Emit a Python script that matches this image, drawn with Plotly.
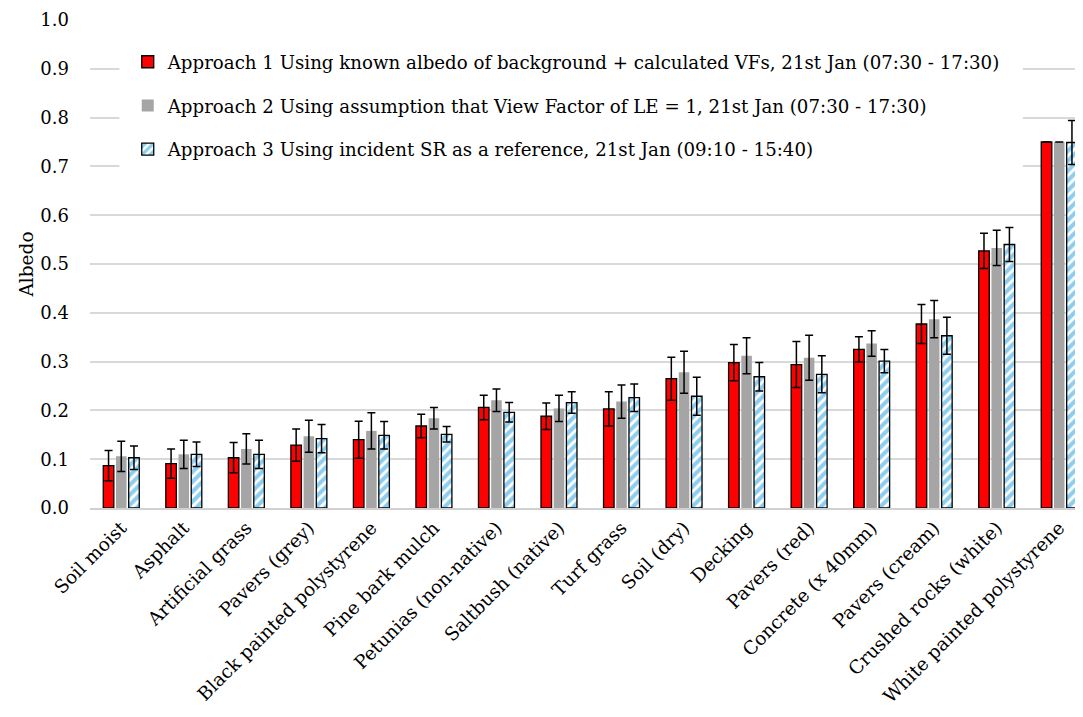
import plotly.graph_objects as go

categories = ["Soil moist", "Asphalt", "Artificial grass", "Pavers (grey)",
              "Black painted polystyrene", "Pine bark mulch", "Petunias (non-native)",
              "Saltbush (native)", "Turf grass", "Soil (dry)", "Decking", "Pavers (red)",
              "Concrete (x 40mm)", "Pavers (cream)", "Crushed rocks (white)",
              "White painted polystyrene"]

approach1 = [0.087, 0.091, 0.103, 0.129, 0.140, 0.168, 0.206, 0.188, 0.203, 0.265,
             0.298, 0.294, 0.325, 0.377, 0.527, 0.750]
approach1_err = [0.031, 0.030, 0.031, 0.033, 0.038, 0.024, 0.025, 0.027, 0.035, 0.044,
                 0.037, 0.047, 0.026, 0.040, 0.036, 0.0]

approach2 = [0.106, 0.110, 0.121, 0.147, 0.158, 0.184, 0.221, 0.204, 0.218, 0.278,
             0.312, 0.308, 0.337, 0.387, 0.533, 0.750]
approach2_err = [0.031, 0.029, 0.031, 0.033, 0.037, 0.022, 0.023, 0.027, 0.034, 0.043,
                 0.037, 0.046, 0.026, 0.038, 0.036, 0.0]

approach3 = [0.103, 0.110, 0.110, 0.142, 0.149, 0.151, 0.196, 0.216, 0.226, 0.229,
             0.269, 0.274, 0.301, 0.353, 0.540, 0.749]
approach3_err = [0.024, 0.025, 0.029, 0.029, 0.028, 0.016, 0.020, 0.022, 0.028, 0.039,
                 0.029, 0.038, 0.024, 0.038, 0.035, 0.045]

names = ["Approach 1 Using known albedo of background + calculated VFs, 21st Jan (07:30 - 17:30)",
         "Approach 2 Using assumption that View Factor of LE = 1, 21st Jan (07:30 - 17:30)",
         "Approach 3 Using incident SR as a reference, 21st Jan (09:10 - 15:40)"]

y_ticks = [round(i * 0.1, 1) for i in range(11)]

FONT = "DejaVu Serif"
err_style = dict(type="data", color="black", thickness=1.5, width=4)

fig = go.Figure()
fig.add_trace(go.Bar(
    x=categories, y=approach1, name=names[0], legendgroup="a1",
    marker=dict(color="#ff0000", line=dict(color="black", width=1.3)),
    error_y=dict(array=approach1_err, **err_style)))
fig.add_trace(go.Bar(
    x=categories, y=approach2, name=names[1], legendgroup="a2",
    marker=dict(color="#a5a5a5", line=dict(color="#a5a5a5", width=0)),
    error_y=dict(array=approach2_err, **err_style)))
fig.add_trace(go.Bar(
    x=categories, y=approach3, name=names[2], legendgroup="a3",
    marker=dict(color="white", line=dict(color="black", width=1.3),
                pattern=dict(shape="/", fgcolor="#1b9ce0", bgcolor="white",
                             size=7, solidity=0.58, fillmode="overlay")),
    error_y=dict(array=approach3_err, **err_style)))

# white backdrop behind the legend area (hides gridlines there, as in the original)
fig.add_shape(type="rect", xref="x", yref="y", x0=-0.03, x1=14.42, y0=0.64, y1=0.97,
              fillcolor="white", line=dict(width=0), layer="between")

fig.update_layout(
    width=1075, height=709,
    margin=dict(l=82, r=0, t=12, b=209, autoexpand=False),
    paper_bgcolor="white", plot_bgcolor="white",
    barmode="group", bargap=0.39, bargroupgap=0.17,
    font=dict(family=FONT, size=18, color="black"),
    showlegend=True,
    legend=dict(x=0.038, y=0.952, xanchor="left", yanchor="top",
                bgcolor="white", borderwidth=0, tracegroupgap=17,
                font=dict(family=FONT, size=18.2, color="black")),
)
fig.update_xaxes(range=[-0.5, 15.38], tickangle=-45, showgrid=False,
                 showline=True, linecolor="#d0d0d0", linewidth=1.5,
                 ticks="", automargin=False, tickfont=dict(family=FONT, size=18.5))
fig.update_yaxes(range=[0, 1.0], tickvals=y_ticks, tickformat=".1f",
                 showgrid=True, gridcolor="#d9d9d9", gridwidth=1.5,
                 zeroline=False, showline=False, ticks="", automargin=False,
                 ticklabelstandoff=20,
                 title=dict(text="Albedo", font=dict(family=FONT, size=18.5), standoff=1),
                 tickfont=dict(family=FONT, size=18))

fig.write_html("out.html")
